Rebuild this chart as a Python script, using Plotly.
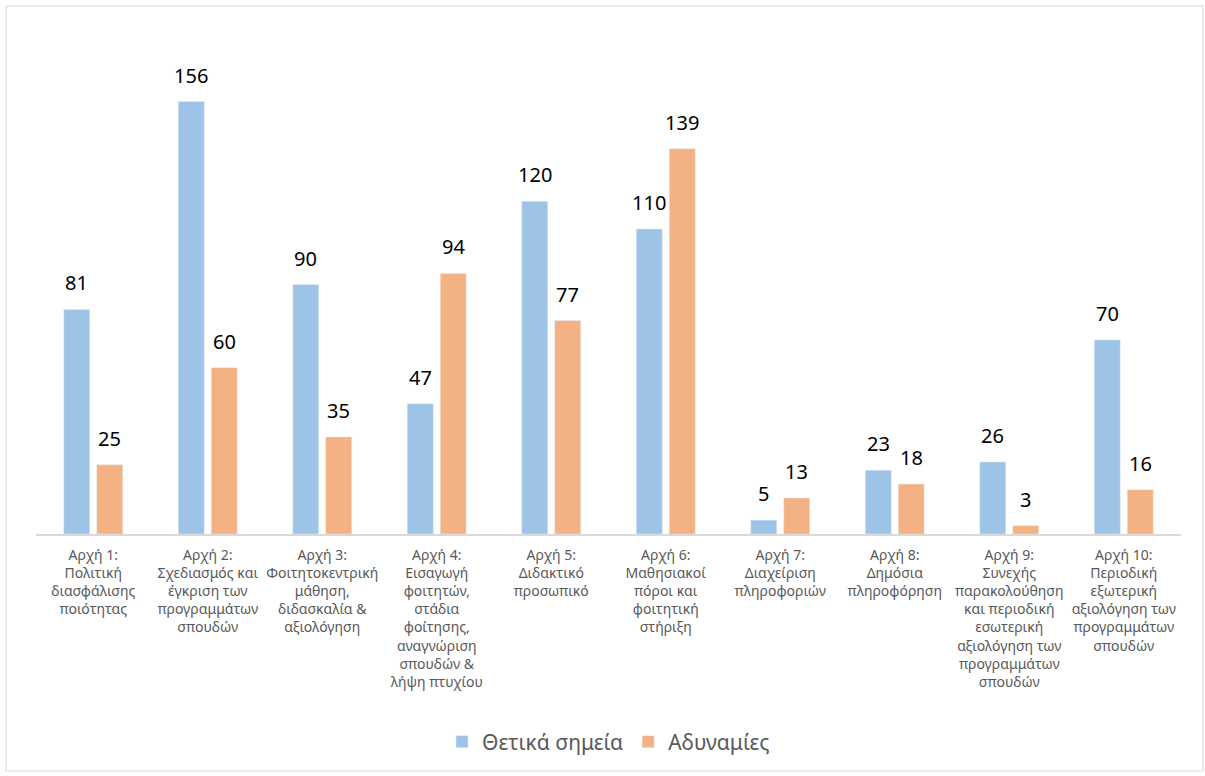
import plotly.graph_objects as go

categories = [
    "Αρχή 1:<br>Πολιτική<br>διασφάλισης<br>ποιότητας",
    "Αρχή 2:<br>Σχεδιασμός και<br>έγκριση των<br>προγραμμάτων<br>σπουδών",
    "Αρχή 3:<br>Φοιτητοκεντρική<br>μάθηση,<br>διδασκαλία &<br>αξιολόγηση",
    "Αρχή 4:<br>Εισαγωγή<br>φοιτητών,<br>στάδια<br>φοίτησης,<br>αναγνώριση<br>σπουδών &<br>λήψη πτυχίου",
    "Αρχή 5:<br>Διδακτικό<br>προσωπικό",
    "Αρχή 6:<br>Μαθησιακοί<br>πόροι και<br>φοιτητική<br>στήριξη",
    "Αρχή 7:<br>Διαχείριση<br>πληροφοριών",
    "Αρχή 8:<br>Δημόσια<br>πληροφόρηση",
    "Αρχή 9:<br>Συνεχής<br>παρακολούθηση<br>και περιοδική<br>εσωτερική<br>αξιολόγηση των<br>προγραμμάτων<br>σπουδών",
    "Αρχή 10:<br>Περιοδική<br>εξωτερική<br>αξιολόγηση των<br>προγραμμάτων<br>σπουδών",
]
strengths = [81, 156, 90, 47, 120, 110, 5, 23, 26, 70]
weaknesses = [25, 60, 35, 94, 77, 139, 13, 18, 3, 16]
series_names = ["Θετικά σημεία", "Αδυναμίες"]
series_colors = ["#9DC3E6", "#F4B183"]

FONT = "Noto Sans"
W, H = 1205, 776
L, R, T, B = 36, 24, 35, 242
pw, ph = W - L - R, H - T - B
BARGAP, BARGROUPGAP = 0.424, 0.212

def px_x(x):
    return (x - L) / pw

def px_y(y):
    return (H - B - y) / ph

fig = go.Figure()
series = [strengths, weaknesses]
for name, vals, col in zip(series_names, series, series_colors):
    fig.add_trace(go.Bar(
        x=categories, y=vals, name=name, marker_color=col,
    ))

# data labels centred over each bar of the group
cat_w = pw / len(categories)
slot = cat_w * (1 - BARGAP) / len(series)
for i, vals in enumerate(series):
    shift = (i - (len(series) - 1) / 2) * slot
    for c, v in zip(categories, vals):
        fig.add_annotation(
            x=c, y=v, text=str(v), showarrow=False,
            xanchor="center", yanchor="bottom",
            xshift=shift, yshift=11,
            font=dict(size=20, color="#000000", family=FONT),
        )

fig.update_layout(
    width=W, height=H,
    margin=dict(l=L, r=R, t=T, b=B, autoexpand=False),
    paper_bgcolor="white", plot_bgcolor="white",
    barmode="group", bargap=BARGAP, bargroupgap=BARGROUPGAP,
    font=dict(family=FONT, color="#595959"),
    showlegend=True,
    legend=dict(
        orientation="h", x=0.5, xanchor="center",
        y=px_y(742), yanchor="middle",
        font=dict(size=21, color="#595959", family=FONT),
    ),
)
fig.update_xaxes(
    showline=True, linecolor="#D9D9D9", linewidth=1.5,
    showgrid=False, ticks="", tickangle=0,
    ticklabelstandoff=7,
    tickfont=dict(size=14, color="#595959", family=FONT),
)
fig.update_yaxes(
    range=[0, 180], visible=False, showgrid=False, zeroline=False,
)
fig.add_shape(
    type="rect", xref="paper", yref="paper",
    x0=px_x(6), x1=px_x(1203), y0=px_y(771), y1=px_y(6),
    line=dict(color="#D9D9D9", width=1), fillcolor="rgba(0,0,0,0)",
    layer="below",
)

fig.write_html(
    "out.html",
    config={"displayModeBar": False},
    post_script="document.body.style.margin='0';",
)
